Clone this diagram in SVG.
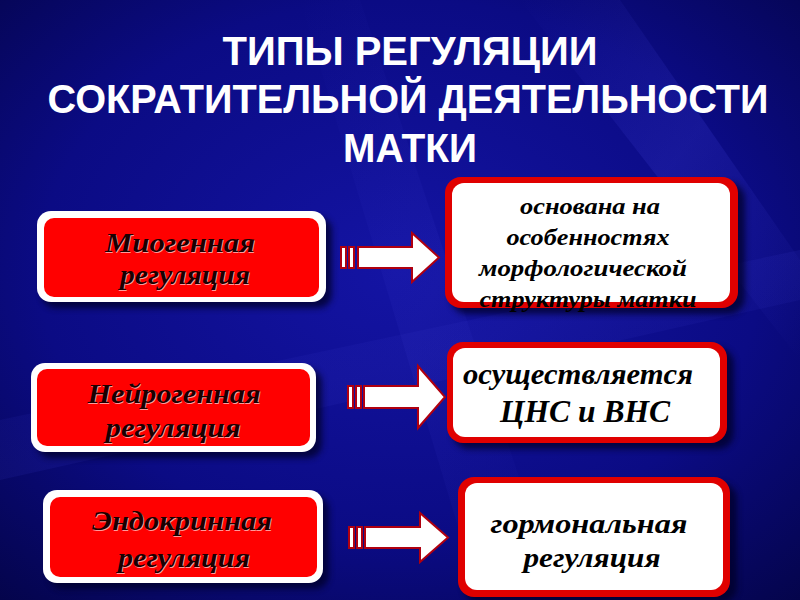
<svg xmlns="http://www.w3.org/2000/svg" width="800" height="600" viewBox="0 0 800 600">
<defs>
<radialGradient id="bg" cx="0.5" cy="0.45" r="0.75">
<stop offset="0" stop-color="#1414a4"/>
<stop offset="0.6" stop-color="#0b0b84"/>
<stop offset="1" stop-color="#04044a"/>
</radialGradient>
<linearGradient id="streak" x1="0" y1="0" x2="1" y2="1">
<stop offset="0" stop-color="#3a3ad0" stop-opacity="0"/>
<stop offset="0.5" stop-color="#3a3ad0" stop-opacity="0.25"/>
<stop offset="1" stop-color="#3a3ad0" stop-opacity="0"/>
</linearGradient>
<filter id="blur" x="-20%" y="-20%" width="140%" height="140%"><feGaussianBlur stdDeviation="3"/></filter>
</defs>
<style>
.title{font-family:"Liberation Sans",Arial,sans-serif;font-weight:bold;font-size:40px;fill:#ffffff;text-anchor:middle}
.shadow{fill:#000028;opacity:0.75}
.lout{fill:#ffffff}
.lin{fill:#ff0000}
.rout{fill:#e00000}
.rin{fill:#ffffff}
.lt{font-family:"Liberation Serif","Times New Roman",serif;font-weight:bold;font-style:italic;font-size:28px;text-anchor:middle}
.lts{fill:#ff9a9a}
.ltm{fill:#1a0000}
.rt{font-family:"Liberation Serif","Times New Roman",serif;font-weight:bold;font-style:italic;text-anchor:middle;fill:#000000}
.arr{fill:#ffffff;stroke:#b00010;stroke-width:2;stroke-linejoin:miter}
</style>
<rect width="800" height="600" fill="url(#bg)"/>
<path d="M520 0 L620 0 L800 260 L800 360 Z" fill="url(#streak)"/>
<path d="M300 0 L360 0 L560 600 L480 600 Z" fill="url(#streak)" opacity="0.5"/>
<path d="M0 420 L0 480 L800 300 L800 250 Z" fill="url(#streak)" opacity="0.5"/>

<g id="title">
<text class="title" x="410" y="65" textLength="375" lengthAdjust="spacingAndGlyphs">ТИПЫ РЕГУЛЯЦИИ</text>
<text class="title" x="408" y="113" textLength="721" lengthAdjust="spacingAndGlyphs">СОКРАТИТЕЛЬНОЙ ДЕЯТЕЛЬНОСТИ</text>
<text class="title" x="410" y="162" textLength="134" lengthAdjust="spacingAndGlyphs">МАТКИ</text>
</g>

<g id="connectors">
<g id="arrow1">
<rect class="arr" x="341" y="247" width="5" height="21"/>
<rect class="arr" x="349" y="247" width="5" height="21"/>
<path class="arr" d="M358 247 L412 247 L412 233 L439 257.5 L412 282 L412 268 L358 268 Z"/>
</g>
<g id="arrow2">
<rect class="arr" x="348" y="386" width="5" height="22"/>
<rect class="arr" x="356" y="386" width="5" height="22"/>
<path class="arr" d="M364 386 L418 386 L418 366 L445 397 L418 428 L418 408 L364 408 Z"/>
</g>
<g id="arrow3">
<rect class="arr" x="349" y="527" width="5" height="21"/>
<rect class="arr" x="357" y="527" width="5" height="21"/>
<path class="arr" d="M365 527 L420 527 L420 513 L448 537.5 L420 562 L420 548 L365 548 Z"/>
</g>
</g>

<g id="node-myogenic">
<rect class="shadow" x="42" y="217" width="290" height="91" rx="14" filter="url(#blur)"/>
<rect class="lout" x="37" y="211" width="289" height="91" rx="14"/>
<rect class="lin" x="44" y="218" width="275" height="79" rx="10"/>
<text class="lt lts" x="181" y="253" textLength="150" lengthAdjust="spacingAndGlyphs">Миогенная</text>
<text class="lt ltm" x="180" y="252" textLength="150" lengthAdjust="spacingAndGlyphs">Миогенная</text>
<text class="lt lts" x="186" y="285" textLength="130" lengthAdjust="spacingAndGlyphs">регуляция</text>
<text class="lt ltm" x="185" y="284" textLength="130" lengthAdjust="spacingAndGlyphs">регуляция</text>
</g>

<g id="node-neurogenic">
<rect class="shadow" x="37" y="369" width="285" height="89" rx="14" filter="url(#blur)"/>
<rect class="lout" x="31" y="363" width="285" height="89" rx="14"/>
<rect class="lin" x="37" y="369" width="273" height="77" rx="10"/>
<text class="lt lts" x="175" y="404" textLength="173" lengthAdjust="spacingAndGlyphs">Нейрогенная</text>
<text class="lt ltm" x="174" y="403" textLength="173" lengthAdjust="spacingAndGlyphs">Нейрогенная</text>
<text class="lt lts" x="174" y="438" textLength="135" lengthAdjust="spacingAndGlyphs">регуляция</text>
<text class="lt ltm" x="173" y="437" textLength="135" lengthAdjust="spacingAndGlyphs">регуляция</text>
</g>

<g id="node-endocrine">
<rect class="shadow" x="49" y="496" width="280" height="93" rx="14" filter="url(#blur)"/>
<rect class="lout" x="43" y="490" width="280" height="93" rx="14"/>
<rect class="lin" x="50" y="497" width="267" height="80" rx="10"/>
<text class="lt lts" x="183" y="531" textLength="180" lengthAdjust="spacingAndGlyphs">Эндокринная</text>
<text class="lt ltm" x="182" y="530" textLength="180" lengthAdjust="spacingAndGlyphs">Эндокринная</text>
<text class="lt lts" x="185" y="568" textLength="132" lengthAdjust="spacingAndGlyphs">регуляция</text>
<text class="lt ltm" x="184" y="567" textLength="132" lengthAdjust="spacingAndGlyphs">регуляция</text>
</g>

<g id="node-morph">
<rect class="shadow" x="451" y="183" width="294" height="131" rx="16" filter="url(#blur)"/>
<rect class="rout" x="445" y="177" width="293" height="131" rx="16"/>
<rect class="rin" x="452" y="183" width="278" height="119" rx="12"/>
<text class="rt" x="590" y="214" font-size="24" textLength="140" lengthAdjust="spacingAndGlyphs">основана на</text>
<text class="rt" x="588" y="245" font-size="24" textLength="163" lengthAdjust="spacingAndGlyphs">особенностях</text>
<text class="rt" x="583" y="276" font-size="24" textLength="208" lengthAdjust="spacingAndGlyphs">морфологической</text>
<text class="rt" x="588" y="307" font-size="24" textLength="217" lengthAdjust="spacingAndGlyphs">структуры матки</text>
</g>

<g id="node-cns">
<rect class="shadow" x="453" y="348" width="281" height="101" rx="16" filter="url(#blur)"/>
<rect class="rout" x="447" y="342" width="280" height="101" rx="16"/>
<rect class="rin" x="453" y="348" width="267" height="89" rx="12"/>
<text class="rt" x="578" y="384" font-size="30" textLength="230" lengthAdjust="spacingAndGlyphs">осуществляется</text>
<text class="rt" x="585" y="422" font-size="31" textLength="170" lengthAdjust="spacingAndGlyphs">ЦНС и ВНС</text>
</g>

<g id="node-hormonal">
<rect class="shadow" x="464" y="483" width="273" height="120" rx="16" filter="url(#blur)"/>
<rect class="rout" x="458" y="477" width="272" height="120" rx="16"/>
<rect class="rin" x="465" y="483" width="258" height="107" rx="12"/>
<text class="rt" x="589" y="533" font-size="28" textLength="197" lengthAdjust="spacingAndGlyphs">гормональная</text>
<text class="rt" x="592" y="567" font-size="28" textLength="137" lengthAdjust="spacingAndGlyphs">регуляция</text>
</g>
</svg>
